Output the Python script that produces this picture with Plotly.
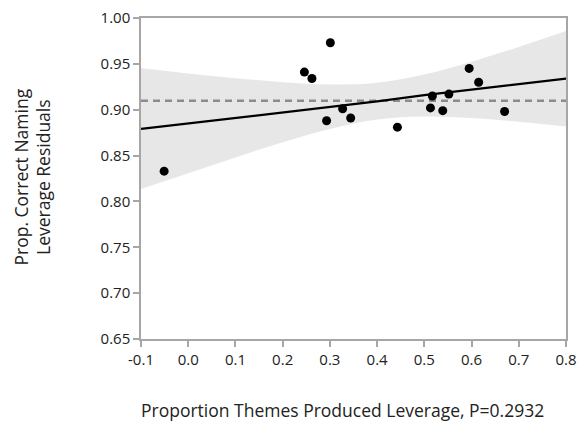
import plotly.graph_objects as go

# Leverage residuals for proportion correct naming vs. proportion themes produced
themes_lev = [-0.051, 0.246, 0.262, 0.301, 0.293, 0.327, 0.344, 0.443,
              0.513, 0.517, 0.539, 0.552, 0.595, 0.615, 0.670]
naming_lev = [0.833, 0.941, 0.934, 0.973, 0.888, 0.901, 0.891, 0.881,
              0.902, 0.915, 0.899, 0.917, 0.945, 0.930, 0.898]

# Fitted leverage line and its confidence curves, read at each x tick
band_x = [-0.1, 0.0, 0.1, 0.2, 0.3, 0.4, 0.5, 0.6, 0.7, 0.8]
fit_y = [0.879, 0.885, 0.891, 0.897, 0.903, 0.909, 0.916, 0.922, 0.928, 0.934]
upper_y = [0.9454, 0.9395, 0.9344, 0.9300, 0.9275, 0.9294, 0.9383, 0.9523, 0.9684, 0.9857]
lower_y = [0.8135, 0.8307, 0.8480, 0.8645, 0.8791, 0.8894, 0.8927, 0.8909, 0.8868, 0.8817]
mean_y = 0.9097

x_ticks = [-0.1, 0.0, 0.1, 0.2, 0.3, 0.4, 0.5, 0.6, 0.7, 0.8]
y_ticks = [0.65, 0.70, 0.75, 0.80, 0.85, 0.90, 0.95, 1.00]

FONT = "Open Sans"
AXIS_GREY = "#a6a6a6"
TEXT = "#222222"

fig = go.Figure()

# confidence band
fig.add_trace(go.Scatter(x=band_x, y=upper_y, mode="lines",
                         line=dict(width=0, shape="spline", smoothing=1.0),
                         hoverinfo="skip", showlegend=False))
fig.add_trace(go.Scatter(x=band_x, y=lower_y, mode="lines",
                         line=dict(width=0, shape="spline", smoothing=1.0),
                         fill="tonexty", fillcolor="#e7e7e7",
                         hoverinfo="skip", showlegend=False))

# horizontal mean line
fig.add_trace(go.Scatter(x=[band_x[0], band_x[-1]], y=[mean_y, mean_y],
                         mode="lines",
                         line=dict(color="#8c8c8c", width=2.5, dash="7px,5px"),
                         showlegend=False))

# fitted line
fig.add_trace(go.Scatter(x=band_x, y=fit_y, mode="lines",
                         line=dict(color="black", width=2.2),
                         showlegend=False))

# points
fig.add_trace(go.Scatter(x=themes_lev, y=naming_lev, mode="markers",
                         marker=dict(color="black", size=9),
                         showlegend=False))

fig.update_layout(
    width=579, height=424,
    margin=dict(l=141, r=13, t=18, b=85, autoexpand=False),
    paper_bgcolor="white", plot_bgcolor="white",
    font=dict(family=FONT, size=15, color=TEXT),
    annotations=[
        dict(text="Proportion Themes Produced Leverage, P=0.2932",
             xref="paper", yref="paper", x=0.474, y=-0.222,
             xanchor="center", yanchor="middle", showarrow=False,
             font=dict(family=FONT, size=17.5, color=TEXT)),
        dict(text="Prop. Correct Naming<br>Leverage Residuals",
             xref="paper", yref="paper", x=-0.255, y=0.505,
             xanchor="center", yanchor="middle", textangle=-90,
             showarrow=False,
             font=dict(family=FONT, size=17.5, color=TEXT)),
    ],
)
fig.update_xaxes(
    range=[-0.1, 0.8], tickvals=x_ticks,
    ticktext=[f"{v:.1f}" for v in x_ticks],
    showgrid=False, zeroline=False, automargin=False,
    showline=True, linecolor=AXIS_GREY, linewidth=1.5, mirror=True,
    ticks="outside", ticklen=6, tickcolor=AXIS_GREY, tickwidth=1.5,
)
fig.update_yaxes(
    range=[0.65, 1.00], tickvals=y_ticks,
    ticktext=[f"{v:.2f}" for v in y_ticks],
    showgrid=False, zeroline=False, automargin=False,
    showline=True, linecolor=AXIS_GREY, linewidth=1.5, mirror=True,
    ticks="outside", ticklen=6, tickcolor=AXIS_GREY, tickwidth=1.5,
)

fig.write_html("out.html")
